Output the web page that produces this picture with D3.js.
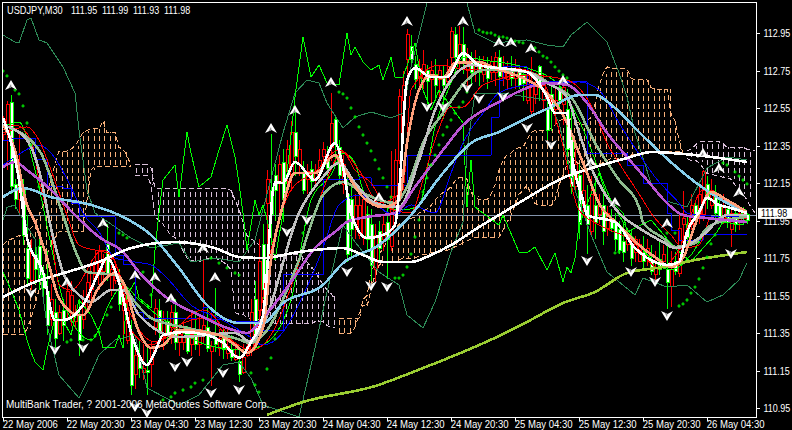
<!DOCTYPE html>
<html>
<head>
<meta charset="utf-8">
<script src="https://d3js.org/d3.v7.min.js"></script>
<style>
html, body { margin: 0; background: #000; overflow: hidden; }
text { font-family: "Liberation Sans", sans-serif; font-size: 11px; fill: #fff; }
</style>
</head>
<body>
<div id="chart"></div>
<script>
// USDJPY M30 candles, one per bar
const opens = [
112.49,112.57,112.13,112.06,112.14,111.87,111.64,111.78,111.69,111.64,
111.59,111.39,111.53,111.32,111.46,111.39,111.57,111.55,111.46,111.31,
111.53,111.62,111.71,111.73,111.79,111.73,111.66,111.69,111.66,111.50,
111.55,111.47,111.07,111.23,111.16,111.16,111.14,111.27,111.48,111.36,
111.42,111.34,111.46,111.30,111.34,111.35,111.25,111.34,111.29,111.37,
111.39,111.27,111.28,111.29,111.32,111.26,111.28,111.22,111.23,111.13,
111.22,111.28,111.46,111.31,111.73,111.58,112.17,111.98,112.11,112.25,
112.06,112.33,112.42,112.29,112.33,112.11,112.21,112.16,112.21,112.27,
112.33,112.23,112.47,112.36,112.19,112.25,111.77,111.90,112.03,112.03,
112.06,111.85,111.71,111.87,111.80,111.93,111.85,112.08,112.27,112.61,
112.67,112.94,112.81,112.70,112.76,112.78,112.69,112.75,112.67,112.75,
112.67,112.74,112.96,112.82,112.89,112.79,112.83,112.74,112.80,112.74,
112.78,112.71,112.80,112.82,112.72,112.76,112.75,112.71,112.75,112.67,
112.68,112.73,112.67,112.67,112.66,112.67,112.43,112.54,112.59,112.59,
112.66,112.33,112.13,112.25,111.93,112.11,111.93,112.09,111.94,112.03,
111.89,111.99,111.91,111.85,111.79,111.78,111.87,111.75,111.85,111.82,
111.73,111.80,111.68,111.70,111.69,111.77,111.62,111.69,111.68,111.91,
111.96,111.86,112.03,111.95,112.09,112.21,112.06,112.11,111.99,111.96,
112.03,111.94,111.99,111.93,111.99,111.96,111.95];
const highs = [
112.51,112.59,112.62,112.17,112.43,112.17,111.98,111.85,111.82,111.85,
111.71,111.79,111.61,111.53,111.50,111.53,111.61,111.63,111.50,111.53,
111.58,111.69,111.74,111.79,111.82,111.77,111.93,111.75,111.73,111.69,
111.63,111.53,111.42,111.29,111.31,111.29,111.29,111.31,111.53,111.53,
111.47,111.47,111.50,111.53,111.39,111.41,111.39,111.47,111.47,111.45,
111.74,111.50,111.31,111.59,111.37,111.39,111.37,111.34,111.29,111.26,
111.29,111.31,111.53,111.63,111.85,111.93,112.22,112.41,112.25,112.30,
112.33,112.38,112.48,112.54,112.38,112.27,112.25,112.27,112.25,112.33,
112.37,112.35,112.63,112.51,112.38,112.30,112.22,112.14,112.09,112.09,
112.10,112.03,112.01,111.93,111.95,111.98,112.03,112.32,112.33,112.65,
112.75,112.97,112.94,112.83,112.81,112.86,112.78,112.80,112.81,112.78,
112.78,112.81,112.98,112.98,112.99,112.98,112.87,112.85,112.86,112.83,
112.83,112.82,112.83,112.85,112.86,112.83,112.80,112.83,112.81,112.78,
112.76,112.76,112.82,112.73,112.78,112.73,112.62,112.67,112.65,112.70,
112.70,112.65,112.54,112.33,112.25,112.22,112.14,112.19,112.17,112.09,
112.09,112.03,112.01,111.99,111.95,111.93,111.90,111.90,111.87,111.85,
111.87,111.85,111.82,111.79,111.85,111.82,111.82,111.79,111.78,111.98,
112.11,111.98,112.09,112.06,112.14,112.22,112.19,112.17,112.14,112.09,
112.09,112.03,112.03,112.03,112.03,112.02,111.99];
const lows = [
112.38,112.22,112.09,112.01,111.98,111.82,111.61,111.58,111.61,111.58,
111.53,111.34,111.39,111.26,111.34,111.31,111.42,111.39,111.37,111.23,
111.37,111.47,111.53,111.63,111.58,111.61,111.63,111.55,111.61,111.47,
111.34,111.29,111.02,111.05,111.11,111.10,111.02,111.06,111.34,111.29,
111.26,111.29,111.29,111.26,111.23,111.26,111.24,111.23,111.26,111.23,
111.29,111.25,111.07,111.25,111.23,111.21,111.21,111.20,111.20,111.09,
111.13,111.22,111.23,111.26,111.43,111.53,111.79,111.82,111.95,111.98,
111.94,112.09,112.11,112.19,112.19,112.09,112.09,112.11,112.14,112.17,
112.22,112.19,112.27,112.25,112.14,112.09,111.73,111.75,111.85,111.85,
111.82,111.79,111.63,111.62,111.74,111.79,111.64,111.79,112.03,112.25,
112.46,112.67,112.78,112.65,112.67,112.65,112.57,112.57,112.59,112.57,
112.49,112.67,112.75,112.78,112.75,112.73,112.67,112.67,112.69,112.67,
112.69,112.65,112.70,112.67,112.65,112.67,112.65,112.67,112.65,112.65,
112.59,112.57,112.51,112.57,112.59,112.54,112.38,112.43,112.46,112.54,
112.46,112.25,112.09,112.11,111.85,111.98,111.77,111.87,111.85,111.93,
111.82,111.87,111.89,111.79,111.77,111.73,111.79,111.71,111.73,111.73,
111.69,111.71,111.66,111.61,111.66,111.69,111.48,111.49,111.66,111.65,
111.79,111.82,111.90,111.93,111.93,111.95,112.01,112.01,111.95,111.94,
111.93,111.91,111.81,111.89,111.90,111.93,111.93];
const closes = [
112.41,112.42,112.58,112.14,112.06,112.11,111.80,111.63,111.77,111.81,
111.66,111.57,111.42,111.46,111.35,111.47,111.47,111.41,111.41,111.45,
111.42,111.52,111.58,111.66,111.61,111.68,111.82,111.58,111.63,111.59,
111.47,111.31,111.34,111.13,111.22,111.14,111.15,111.18,111.38,111.47,
111.34,111.41,111.38,111.46,111.30,111.30,111.34,111.29,111.34,111.29,
111.34,111.38,111.25,111.32,111.27,111.32,111.24,111.26,111.21,111.20,
111.14,111.23,111.26,111.53,111.47,111.82,112.04,112.11,112.19,112.16,
112.26,112.21,112.19,112.42,112.25,112.20,112.17,112.22,112.17,112.22,
112.29,112.28,112.34,112.49,112.34,112.14,112.09,112.06,111.93,111.87,
111.86,111.98,111.93,111.69,111.89,111.85,111.94,111.81,112.08,112.27,
112.59,112.81,112.88,112.78,112.71,112.71,112.75,112.70,112.73,112.70,
112.71,112.69,112.82,112.94,112.83,112.89,112.75,112.80,112.74,112.78,
112.73,112.78,112.74,112.74,112.82,112.71,112.70,112.75,112.71,112.74,
112.73,112.59,112.53,112.62,112.77,112.59,112.54,112.62,112.54,112.66,
112.57,112.54,112.38,112.13,112.19,112.03,112.03,111.89,112.03,111.98,
112.03,111.91,111.95,111.94,111.90,111.84,111.82,111.82,111.78,111.73,
111.78,111.75,111.73,111.66,111.74,111.73,111.69,111.60,111.73,111.67,
111.93,111.93,111.93,112.03,111.98,111.98,112.14,112.03,112.09,112.03,
111.96,112.01,111.90,111.99,111.94,112.01,111.98];

// Ichimoku cloud, upper and lower edge per bar (runs past the last candle)
const cloudHigh = [
111.82,111.84,111.85,111.86,111.87,111.87,111.89,111.91,111.93,111.98,
112.03,112.09,112.17,112.25,112.32,112.32,112.32,112.33,112.35,112.38,
112.42,112.43,112.44,112.44,112.44,112.48,112.42,112.42,112.42,112.34,
112.33,112.30,112.24,112.25,112.25,112.25,112.25,112.23,112.12,112.12,
112.12,112.12,112.12,112.12,112.12,112.12,112.12,112.12,112.12,112.12,
112.12,112.12,112.12,112.12,112.12,112.12,112.12,112.11,112.06,112.01,
111.94,111.87,111.85,111.84,111.82,111.79,111.78,111.77,111.77,111.77,
111.77,111.77,111.77,111.77,111.77,111.75,111.73,111.70,111.68,111.64,
111.61,111.58,111.56,111.53,111.43,111.43,111.43,111.43,111.43,111.43,
111.53,111.55,111.66,111.73,111.77,111.80,111.84,111.87,111.90,111.93,
111.94,111.95,111.96,111.97,111.99,112.00,112.01,112.03,112.06,112.08,
112.10,112.11,112.13,112.16,112.18,112.18,112.17,112.10,112.08,112.06,
112.06,112.06,112.09,112.14,112.22,112.27,112.30,112.31,112.33,112.34,
112.34,112.38,112.42,112.43,112.43,112.43,112.43,112.44,112.46,112.48,
112.49,112.50,112.49,112.48,112.47,112.46,112.48,112.50,112.57,112.67,
112.73,112.77,112.76,112.76,112.76,112.76,112.76,112.71,112.70,112.70,
112.70,112.70,112.66,112.65,112.65,112.65,112.65,112.52,112.48,112.38,
112.31,112.32,112.33,112.35,112.37,112.37,112.37,112.37,112.37,112.37,
112.36,112.34,112.34,112.34,112.34,112.34,112.33,112.33,112.32];
const cloudLow = [
111.34,111.34,111.34,111.34,111.34,111.34,111.37,111.43,111.50,111.58,
111.69,111.77,111.82,111.86,111.89,111.89,111.89,111.89,111.89,111.89,
111.89,112.06,112.22,112.24,112.24,112.24,112.24,112.24,112.24,112.24,
112.24,112.24,112.24,112.19,112.19,112.19,112.19,112.14,111.97,111.95,
111.93,111.90,111.87,111.86,111.83,111.79,111.75,111.74,111.73,111.73,
111.74,111.75,111.75,111.75,111.74,111.73,111.71,111.69,111.46,111.45,
111.45,111.43,111.43,111.42,111.42,111.42,111.42,111.41,111.40,111.40,
111.40,111.40,111.40,111.40,111.40,111.40,111.40,111.40,111.41,111.41,
111.41,111.39,111.38,111.38,111.35,111.35,111.35,111.35,111.38,111.45,
111.50,111.49,111.58,111.66,111.71,111.73,111.73,111.73,111.73,111.74,
111.75,111.75,111.75,111.75,111.76,111.77,111.77,111.78,111.78,111.78,
111.79,111.79,111.80,111.81,111.82,111.83,111.84,111.85,111.86,111.86,
111.86,111.86,111.86,111.86,111.86,111.90,111.94,111.98,112.03,112.09,
112.11,112.14,112.09,112.04,112.03,112.03,112.03,112.03,112.06,112.14,
112.19,112.25,112.27,112.27,112.25,112.22,112.25,112.25,112.25,112.25,
112.26,112.27,112.28,112.28,112.28,112.28,112.28,112.30,112.30,112.30,
112.30,112.32,112.32,112.32,112.32,112.32,112.32,112.32,112.32,112.32,
112.30,112.28,112.27,112.27,112.26,112.23,112.20,112.20,112.19,112.19,
112.18,112.18,112.17,112.14,112.11,112.09,112.06,112.02,111.99];
const thistleRuns = [[33, 83], [171, 188]];

// moving averages and bands, read at selected bars
const longEmaBars = [66,75,93,105,115,124,131,140,148,156,165,173,186];
const longEma = [110.913,110.982,111.067,111.163,111.249,111.334,111.409,111.510,111.569,111.670,111.702,111.739,111.782];

const whiteSlowBars = [0,8,16,24,32,43,53,59,65,74,85,90,95,102,107,112,119,124,131,140,148,156,162,173,186];
const whiteSlow = [111.542,111.622,111.675,111.729,111.803,111.835,111.803,111.755,111.750,111.782,111.803,111.766,111.729,111.729,111.766,111.819,111.915,111.979,112.070,112.177,112.235,112.283,112.315,112.299,112.262];

const skyBars = [0,5,12,22,29,37,44,51,59,65,70,80,85,94,102,110,117,124,131,137,144,148,153,159,165,173,181,186];
const sky = [112.075,112.123,112.075,112.033,111.979,111.873,111.697,111.499,111.403,111.403,111.510,111.606,111.723,111.819,111.979,112.203,112.363,112.422,112.497,112.555,112.619,112.619,112.550,112.422,112.299,112.155,112.043,111.990];

const purpleBars = [0,3,6,12,18,24,30,34,41,49,56,61,65,72,78,83,86,91,98,103,110,115,124,131,136,141,146,151,156,161,166,170,176,186];
const purple = [112.235,112.262,112.219,112.113,111.979,111.862,111.782,111.675,111.537,111.446,111.377,111.350,111.430,111.622,111.803,111.889,111.942,111.969,111.990,112.129,112.326,112.459,112.582,112.657,112.683,112.673,112.577,112.417,112.289,112.166,112.043,111.979,111.963,111.942];

const salmonBars = [0,3,6,8,11,14,19,20,24,28,30,34,37,40,44,54,58,61,65,67,70,73,78,83,85,90,95,99,101,104,107,110,113,119,123,131,136,141,144,146,149,154,159,163,167,170,173,177,181,186];
const salmon = [112.459,112.326,112.033,111.942,111.750,111.537,111.446,111.446,111.595,111.670,111.622,111.355,111.270,111.286,111.366,111.339,111.286,111.243,111.377,111.739,112.033,112.203,112.203,112.299,112.235,112.075,112.022,112.059,112.363,112.646,112.726,112.710,112.790,112.795,112.763,112.699,112.630,112.470,112.310,112.203,112.043,111.926,111.819,111.755,111.702,111.750,111.926,112.102,112.059,111.995];

const whiteFastBars = [0,4,6,10,13,15,20,24,26,29,32,36,38,40,45,51,55,59,62,65,68,70,73,78,83,85,87,91,95,98,99,101,103,107,111,115,119,131,136,138,141,142,145,146,153,158,162,166,169,171,174,176,179,181,186];
const whiteFast = [112.497,112.166,111.857,111.675,111.419,111.419,111.499,111.675,111.750,111.622,111.355,111.179,111.249,111.339,111.355,111.339,111.297,111.217,111.302,111.446,112.155,112.150,112.262,112.166,112.363,112.235,111.990,111.857,111.873,111.926,112.097,112.699,112.763,112.715,112.715,112.843,112.779,112.742,112.609,112.523,112.523,112.326,112.059,111.979,111.942,111.803,111.739,111.713,111.729,111.889,111.995,112.070,112.033,112.022,111.990];

const grayBars = [0,6,9,12,15,19,22,27,30,34,44,58,62,65,74,80,84,88,93,99,104,108,112,117,124,131,136,141,144,147,151,154,159,165,168,171,175,181,186];
const gray = [112.459,112.379,112.219,111.910,111.675,111.553,111.515,111.579,111.579,111.446,111.329,111.350,111.302,111.393,111.990,112.182,112.257,112.150,112.043,112.022,112.273,112.539,112.699,112.779,112.763,112.742,112.683,112.609,112.417,112.235,112.075,111.990,111.910,111.835,111.803,111.819,111.873,111.979,111.979];

const seaBars = [0,9,15,18,21,28,33,37,46,58,62,65,74,80,85,90,98,101,105,110,116,120,131,138,142,148,154,159,160,165,168,173,176,181,186];
const sea = [112.459,112.326,111.979,111.793,111.675,111.659,111.515,111.430,111.377,111.323,111.297,111.339,111.739,112.086,112.155,112.097,112.043,112.129,112.363,112.523,112.699,112.753,112.742,112.662,112.609,112.363,112.166,112.022,111.942,111.857,111.809,111.830,111.910,111.953,111.969];

const redABars = [0,6,9,12,16,19,27,32,38,50,61,65,68,73,76,80,85,88,92,96,102,105,108,112,115,120,131,141,148,151,154,160,162,167,170,174,177,186];
const redA = [112.417,112.449,112.379,112.219,111.979,111.819,111.766,111.446,111.302,111.473,111.249,111.286,111.377,111.659,111.857,112.113,112.315,112.219,112.150,112.022,111.990,112.166,112.379,112.555,112.555,112.673,112.726,112.699,112.523,112.363,112.257,112.059,111.990,111.873,111.803,111.819,111.963,111.963];

const redBBars = [0,3,7,9,12,14,17,25,29,32,37,44,51,57,62,67,72,78,84,89,94,100,102,109,117,127,134,139,144,149,157,164,169,175,181,186];
const redB = [112.433,112.459,112.379,112.166,111.899,111.606,111.579,111.793,111.676,111.366,111.286,111.393,111.430,111.313,111.259,111.793,112.113,112.209,112.326,112.219,112.043,112.113,112.646,112.779,112.753,112.763,112.726,112.433,112.006,111.926,111.846,111.697,111.793,112.113,112.043,111.979];

// blue stepped line (kijun)
const kijunBars = [0,2,8,11,15,17,19,28,30,33,35,50,52,57,65,70,80,89,92,101,122,124,125,131,135,146,156,160,166,167,169,175,186];
const kijun = [112.379,112.390,112.273,112.129,112.123,112.043,111.969,111.766,111.713,111.462,111.430,111.484,111.420,111.409,111.366,111.660,112.170,112.177,112.139,112.299,112.500,112.699,112.769,112.673,112.689,112.310,112.246,112.150,111.990,111.899,111.846,111.873,111.873];

const blueBars = [0,3,9,12,17,20,24,28,33,37,41,47,54,61,65,70,73,77,80,84,89,98,102,108,112,115,120,124,131,144,149,154,160,163,169,171,177,186];
const blue = [112.246,112.289,112.353,112.310,112.129,111.990,111.889,111.750,111.729,111.713,111.643,111.499,111.430,111.339,111.286,111.355,111.462,111.643,111.803,112.033,112.086,111.979,112.033,111.990,112.203,112.363,112.523,112.630,112.673,112.689,112.646,112.470,112.273,112.182,112.043,111.990,111.974,111.969];

const limeMaBars = [0,4,8,12,15,22,27,30,34,42,51,60,65,72,77,82,85,88,90,93,100,104,108,112,115,120,131,139,144,152,159,167,172,177,186];
const limeMa = [112.449,112.475,112.219,111.819,111.526,111.313,111.526,111.606,111.526,111.393,111.286,111.259,111.286,111.526,112.059,112.193,112.310,112.257,112.113,112.043,112.006,112.030,112.449,112.683,112.822,112.806,112.763,112.673,112.486,112.059,111.819,111.686,111.766,111.926,111.990];

// jagged bright green line
const jagBars = [0,2,4,6,7,8,10,11,13,15,17,19,22,24,25,28,29,30,31,33,34,37,38,39,40,43,44,46,47,49,52,54,56,58,59,60,61,62,63,64,65,67,68,70,73,75,77,79,81,84,86,87,88,90,92,94,95,97,98,100,103,105,107,109,115,116,117,118,124,125,129,131,133,136,138,140,141,142,143,144,145,149,151,155,156,162,168,172,175,178,180,185,186];
const jag = [111.675,111.580,111.473,111.313,111.249,111.196,111.153,111.259,111.430,111.419,111.339,111.526,111.446,111.355,111.270,111.275,111.339,111.270,111.553,111.622,111.537,111.483,111.793,111.990,112.166,112.246,112.075,112.422,112.310,112.129,112.182,112.326,112.459,112.289,112.150,111.990,111.793,111.926,112.059,111.979,112.033,111.873,111.739,111.990,112.609,112.929,112.715,112.779,112.683,112.673,112.950,112.833,112.875,112.795,112.753,112.779,112.699,112.822,112.715,112.715,112.897,112.646,112.539,112.646,112.470,112.022,112.273,112.022,111.926,111.979,111.782,111.777,111.809,111.686,111.777,111.622,111.702,111.670,111.750,111.926,111.979,112.203,112.075,111.990,111.889,111.953,111.803,111.729,111.803,111.873,111.942,111.926,111.963];

// bollinger bands
const upperBandBars = [0,3,4,6,7,9,11,15,18,19,21,23,32,37,44,47,53,59,63,70,73,76,79,81,85,88,92,97,100,102,106,111,116,118,123,131,136,140,142,146,151,154,156,158,162,165,171,176,181,186];
const upperBand = [112.939,112.902,112.897,113.019,113.030,112.913,112.897,112.769,112.630,112.433,112.113,111.990,111.857,111.803,111.830,111.729,111.750,111.729,111.846,112.417,112.630,112.699,112.683,112.577,112.443,112.502,112.529,112.497,112.523,112.769,113.110,113.300,113.110,112.950,112.897,112.913,112.886,112.875,112.939,113.009,112.902,112.737,112.609,112.417,112.150,112.059,112.022,112.230,112.289,112.273];

const lowerBandBars = [0,1,3,4,8,11,14,19,21,24,28,33,36,44,49,55,59,62,65,74,78,81,85,88,94,99,101,105,108,112,115,116,118,125,131,136,139,143,147,151,158,160,166,171,176,180,184,186];
const lowerBand = [111.950,112.020,112.033,111.990,111.850,111.393,111.126,111.004,111.089,111.233,111.313,111.339,111.057,110.966,111.020,111.180,111.195,111.110,110.966,110.902,111.270,111.569,111.926,111.836,111.675,111.606,111.446,111.377,111.515,111.782,111.942,112.326,112.630,112.630,112.609,112.593,112.470,112.113,111.873,111.675,111.553,111.643,111.595,111.606,111.515,111.553,111.633,111.724];

// parabolic sar dots
const sarBars = [0,1,3,4,5,6,7,9,16,17,20,22,23,24,26,27,29,30,31,35,37,40,42,43,45,47,48,50,52,54,56,58,59,62,63,64,66,67,68,75,84,85,86,87,88,89,90,91,92,93,94,95,96,97,98,99,100,101,102,103,104,105,106,107,108,109,110,111,112,113,114,115,116,119,120,121,122,123,124,125,126,127,128,129,130,133,134,135,136,137,138,139,140,141,153,154,166,168,169,170,171,172,173,174,175,176,177,178,180,181,183,184,185,186];
const sar = [112.747,112.721,112.646,112.625,112.561,112.470,112.353,112.129,111.302,111.313,111.313,111.313,111.334,111.355,111.446,111.488,111.883,111.873,111.857,111.675,111.553,110.993,111.009,111.030,111.046,111.062,111.083,111.099,111.750,111.723,111.697,111.670,111.659,111.137,111.073,111.035,111.158,111.217,111.318,111.883,112.635,112.625,112.603,112.550,112.502,112.449,112.406,112.363,112.321,112.273,112.225,112.177,112.129,112.075,111.643,111.643,111.659,111.702,111.771,111.862,111.953,112.102,112.177,112.246,112.299,112.353,112.406,112.449,112.486,112.523,112.555,112.582,112.635,112.966,112.955,112.950,112.950,112.939,112.929,112.929,112.923,112.913,112.907,112.902,112.897,112.870,112.849,112.827,112.817,112.795,112.769,112.747,112.726,112.710,111.777,111.782,111.883,111.883,111.494,111.505,111.526,111.563,111.595,111.638,111.697,111.755,111.825,111.873,112.257,112.246,112.209,112.187,112.166,112.145];

// fractal arrows
const upBars = [2,25,16,33,38,42,50,53,67,73,82,94,101,115,124,127,132,140,147,153,175,179,184,166];
const upPrices = [112.673,111.937,111.622,111.659,111.649,111.537,111.803,111.649,112.443,112.539,112.689,112.075,113.014,113.014,112.902,112.902,112.870,112.699,112.262,112.049,112.310,112.230,112.102,111.937];
const downBars = [7,13,20,33,36,43,46,55,52,59,76,71,86,92,96,106,110,116,119,125,131,137,146,157,163,166,182];
const downPrices = [111.563,111.259,111.270,110.955,110.923,111.169,111.196,111.137,111.030,111.046,111.953,111.889,111.675,111.601,111.595,112.555,112.555,112.657,112.598,112.609,112.443,112.353,111.734,111.675,111.622,111.441,111.771];

// axis labels
const priceTicks = [112.95,112.75,112.55,112.35,112.15,111.95,111.75,111.55,111.35,111.15,110.95];
const timeTickBars = [0,16,32,48,64,80,96,112,128,144,160,176];
const timeTickLabels = ["22 May 2006","22 May 20:30","23 May 04:30","23 May 12:30","23 May 20:30","24 May 04:30","24 May 12:30","24 May 20:30","25 May 04:30","25 May 12:30","25 May 20:30","26 May 04:30"];
const headerName = "USDJPY,M30";
const headerQuotes = ["111.95","111.99","111.93","111.98"];
const footerText = "MultiBank Trader, ? 2001-2006 MetaQuotes Software Corp.";

const width = 792, height = 430;
const plot = { left: 3, right: 756, top: 3, bottom: 417 };

const svg = d3.select("#chart").append("svg")
    .attr("width", width)
    .attr("height", height)
    .style("display", "block");

svg.append("rect").attr("width", width).attr("height", height).attr("fill", "#000");

svg.append("clipPath").attr("id", "plot-clip").append("rect")
    .attr("x", plot.left)
    .attr("y", plot.top)
    .attr("width", plot.right - plot.left)
    .attr("height", plot.bottom - plot.top);

// 4px per bar, 37.5px per 0.20
const x = d3.scaleLinear().domain([0, 188]).range([3, 755]);
const y = d3.scaleLinear().domain([110.95, 112.95]).range([408, 33]);

// squeeze a text horizontally, the terminal font is narrower than Liberation
function squeeze(selection, factor) {
    selection.each(function () {
        const tx = (+this.getAttribute("x") || 0) * (1 - factor);
        this.setAttribute("transform", `translate(${tx},0) scale(${factor},1)`);
    });
}

const chart = svg.append("g").attr("clip-path", "url(#plot-clip)");

// Cloud hatch, one dashed column about every 5.3px with the dashes in rows
const sandy = "#f8b07a", thistle = "#d8bfd8";
const cloudColor = i => thistleRuns.some(r => i >= r[0] && i <= r[1]) ? thistle : sandy;
const cloud = chart.append("g").attr("shape-rendering", "crispEdges");
cloud.selectAll(".col")
    .data(d3.range(0, cloudHigh.length - 1, 4 / 3))
    .enter().append("line")
    .attr("x1", d => Math.round(x(d)) + 0.5)
    .attr("x2", d => Math.round(x(d)) + 0.5)
    .attr("y1", d => y(cloudHigh[Math.floor(d)]))
    .attr("y2", d => y(cloudLow[Math.floor(d)]))
    .attr("stroke", d => cloudColor(Math.floor(d)))
    .attr("stroke-dasharray", "5,3")
    .attr("stroke-dashoffset", d => y(cloudHigh[Math.floor(d)]) % 8);

// Cloud edges, dashed the same way
const cloudBars = d3.range(cloudHigh.length);
[cloudHigh, cloudLow].forEach(edge => {
    [thistle, sandy].forEach(color => {
        cloud.append("path")
            .attr("d", d3.line()
                .defined(d => cloudColor(d) === color)
                .x(d => x(d))
                .y(d => y(edge[d]))(cloudBars))
            .attr("fill", "none")
            .attr("stroke", color)
            .attr("stroke-dasharray", "5,3");
    });
});

// Bid line
const lastClose = closes[closes.length - 1];
chart.append("line")
    .attr("x1", plot.left).attr("x2", plot.right)
    .attr("y1", Math.round(y(lastClose)) + 0.5).attr("y2", Math.round(y(lastClose)) + 0.5)
    .attr("stroke", "#8494ac")
    .attr("shape-rendering", "crispEdges");

// Candles
const candles = chart.append("g").attr("shape-rendering", "crispEdges");
const isUp = i => closes[i] >= opens[i];
const bars = d3.range(closes.length);
candles.selectAll(".wick")
    .data(bars)
    .enter().append("line")
    .attr("x1", d => x(d) + 0.5)
    .attr("x2", d => x(d) + 0.5)
    .attr("y1", d => y(highs[d]))
    .attr("y2", d => y(lows[d]))
    .attr("stroke", d => isUp(d) ? "#00ff00" : "#ff0000");
candles.selectAll(".body")
    .data(bars)
    .enter().append("rect")
    .attr("x", d => x(d) - 1)
    .attr("y", d => y(Math.max(opens[d], closes[d])))
    .attr("width", 3)
    .attr("height", d => Math.max(1, Math.abs(y(opens[d]) - y(closes[d]))))
    .attr("fill", d => isUp(d) ? "#ffffff" : "#000000")
    .attr("stroke", d => isUp(d) ? "#00ff00" : "#ff0000");

// Indicator lines, drawn from the back to the front
function drawLine(barList, values, color, lineWidth, curve) {
    const line = d3.line()
        .x(d => x(d))
        .y((d, i) => y(values[i]))
        .curve(curve || d3.curveMonotoneX);
    chart.append("path")
        .attr("d", line(barList))
        .attr("fill", "none")
        .attr("stroke", color)
        .attr("stroke-width", lineWidth)
        .attr("stroke-linejoin", "round")
        .attr("shape-rendering", "crispEdges");
}

drawLine(upperBandBars, upperBand, "#2e8b57", 1, d3.curveLinear);
drawLine(lowerBandBars, lowerBand, "#2e8b57", 1, d3.curveLinear);
drawLine(jagBars, jag, "#00ff00", 1, d3.curveLinear);
drawLine(limeMaBars, limeMa, "#00ff00", 1);
drawLine(kijunBars, kijun, "#0000ff", 1, d3.curveStepAfter);
drawLine(blueBars, blue, "#0000ff", 1);
drawLine(redABars, redA, "#ff0000", 1);
drawLine(redBBars, redB, "#ff0000", 1);
drawLine(longEmaBars, longEma, "#9acd32", 2.6);
drawLine(seaBars, sea, "#8fbc8f", 2.6);
drawLine(grayBars, gray, "#c0c0c0", 2.6);
drawLine(purpleBars, purple, "#ba55d3", 2.6);
drawLine(skyBars, sky, "#87ceeb", 2.6);
drawLine(whiteSlowBars, whiteSlow, "#ffffff", 2.6);
drawLine(salmonBars, salmon, "#ffa07a", 2.6);
drawLine(whiteFastBars, whiteFast, "#ffffff", 2.6);

// Parabolic SAR
chart.append("g").selectAll("path")
    .data(sarBars)
    .enter().append("path")
    .attr("d", d3.symbol(d3.symbolCross, 6))
    .attr("transform", (d, i) => `translate(${x(d)},${y(sar[i])})`)
    .attr("fill", "#00ff00");

// Fractal arrows
const arrowShape = "M0,-5L6,5L0.5,2L-6,5Z";
const arrowShade = "M0,-1L-2.5,3.5L0.5,2Z";
function drawArrows(barList, values, flip) {
    const g = chart.append("g").selectAll("g")
        .data(barList)
        .enter().append("g")
        .attr("transform", (d, i) => `translate(${x(d)},${y(values[i])}) scale(1,${flip})`);
    g.append("path").attr("d", arrowShape).attr("fill", "#ffffff");
    g.append("path").attr("d", arrowShade).attr("fill", "#888888");
}
drawArrows(upBars, upPrices, 1);
drawArrows(downBars, downPrices, -1);

// Frame
svg.append("path")
    .attr("d", `M2.5,${plot.bottom}V2.5H${plot.right}`)
    .attr("fill", "none")
    .attr("stroke", "#fff")
    .attr("shape-rendering", "crispEdges");

// Axes
const yAxis = d3.axisRight(y).tickValues(priceTicks).tickFormat(d3.format(".2f")).tickSize(3).tickPadding(4);
const yAxisG = svg.append("g").attr("transform", `translate(${plot.right + 0.5},0)`).call(yAxis);
yAxisG.select(".domain").attr("d", `M0,2V${plot.bottom + 1}`);

const xAxis = d3.axisBottom(x).tickValues(timeTickBars).tickFormat((d, i) => timeTickLabels[i]).tickSize(3).tickPadding(0);
const xAxisG = svg.append("g").attr("transform", `translate(0,${plot.bottom + 0.5})`).call(xAxis);
xAxisG.select(".domain").attr("d", `M2,0H${plot.right + 1}`);
xAxisG.selectAll("text").attr("text-anchor", "start").attr("dx", -1);

[yAxisG, xAxisG].forEach(a => {
    a.attr("font-family", null).attr("font-size", null);
    a.selectAll(".domain, .tick line").attr("stroke", "#fff").attr("shape-rendering", "crispEdges");
    a.selectAll("text").attr("fill", "#fff");
});
squeeze(yAxisG.selectAll("text"), 0.82);
squeeze(xAxisG.selectAll("text"), 0.87);

// Current price box, over the tick it hides
svg.append("rect")
    .attr("x", plot.right + 2).attr("y", y(lastClose) - 7)
    .attr("width", 34).attr("height", 11)
    .attr("fill", "#fff");
svg.append("text")
    .attr("x", plot.right + 5).attr("y", y(lastClose) + 2.5)
    .style("fill", "#000")
    .text(d3.format(".2f")(lastClose))
    .call(squeeze, 0.82);

// Header and footer
svg.append("text").attr("x", 7).attr("y", 14).text(headerName).call(squeeze, 0.84);
svg.selectAll(".quote")
    .data(headerQuotes)
    .enter().append("text")
    .attr("class", "quote")
    .attr("x", (d, i) => 71 + i * 31)
    .attr("y", 14)
    .text(d => d)
    .call(squeeze, 0.82);
svg.append("text").attr("x", 6).attr("y", 408).text(footerText).call(squeeze, 0.91);
</script>
</body>
</html>
